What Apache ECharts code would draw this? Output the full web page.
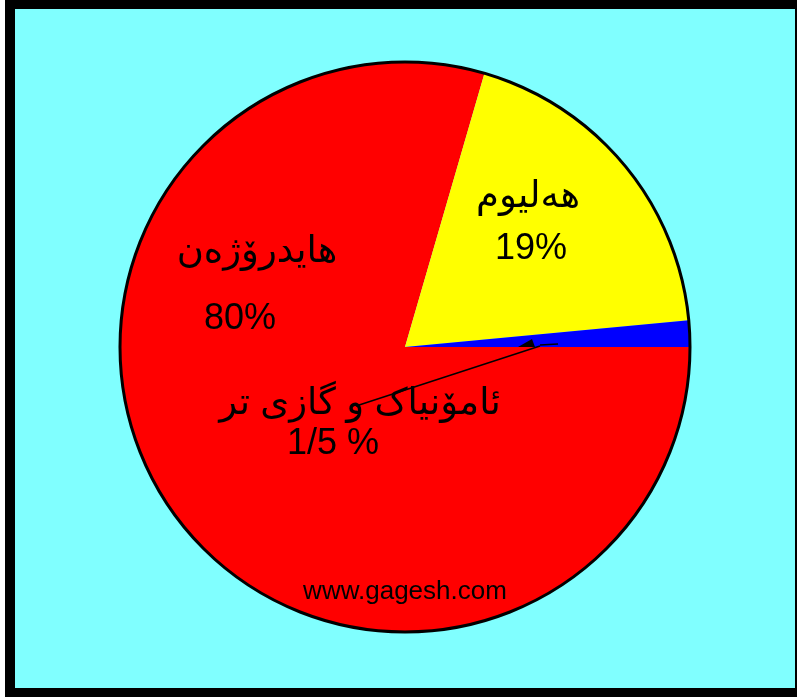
<!DOCTYPE html>
<html>
<head>
<meta charset="utf-8">
<script src="https://cdn.jsdelivr.net/npm/echarts@6/dist/echarts.min.js"></script>
<style>
    html, body { margin: 0; padding: 0; background: #fff; }
    #chart { width: 797px; height: 697px; }
</style>
</head>
<body>
<div id="chart"></div>
<script>
// gases (clockwise from 3 o'clock)
const categories = ['هایدرۆژەن', 'هەلیوم', 'ئامۆنیاک و گازی تر'];
const values = [79.5, 19, 1.5];
const colors = ['#ff0000', '#ffff00', '#0000ff'];
const percentLabels = ['80%', '19%', '1/5 %'];

(function () {
    let myChart = echarts.init(document.getElementById('chart'));
    const font = '"Liberation Sans", Arial, "DejaVu Sans", sans-serif';

    function txt(x, y, s, size) {
        return {
            type: 'text', z: 100, x: x, y: y,
            style: {
                text: s, fill: '#000', font: size + 'px ' + font,
                align: 'center', verticalAlign: 'middle'
            }
        };
    }

    let option = {
        animation: false,
        backgroundColor: '#fff',
        graphic: [
            // frame
            { type: 'rect', z: -10, shape: { x: 5, y: 0, width: 792, height: 697 }, style: { fill: '#000' } },
            { type: 'rect', z: -9, shape: { x: 15, y: 9, width: 780, height: 679 }, style: { fill: '#80ffff' } },
            // labels
            txt(257, 252, categories[0], 37),
            txt(240, 319, percentLabels[0], 36),
            txt(528, 197, categories[1], 37),
            txt(531, 249, percentLabels[1], 36),
            txt(360, 404, categories[2], 37),
            txt(333, 444, percentLabels[2], 36),
            txt(405, 592, 'www.gagesh.com', 26),
            // leader line to the small slice
            { type: 'line', z: 100, shape: { x1: 356, y1: 406, x2: 540, y2: 346 }, style: { stroke: '#000', lineWidth: 1.5 } },
            { type: 'polygon', z: 100, shape: { points: [[532, 339], [518, 347], [535, 347]] }, style: { fill: '#000' } },
            { type: 'line', z: 100, shape: { x1: 540, y1: 345, x2: 558, y2: 344 }, style: { stroke: '#000', lineWidth: 1.5 } }
        ],
        series: [
            {
                type: 'pie',
                center: [405, 347],
                radius: 285,
                startAngle: 0,
                clockwise: true,
                silent: true,
                label: { show: false },
                labelLine: { show: false },
                itemStyle: { borderWidth: 0 },
                data: categories.map((c, i) => ({
                    name: c, value: values[i], itemStyle: { color: colors[i] }
                }))
            },
            {
                // outer rim
                type: 'pie',
                center: [405, 347],
                radius: 285,
                silent: true,
                z: 5,
                label: { show: false },
                labelLine: { show: false },
                itemStyle: { color: 'transparent', borderColor: '#000', borderWidth: 3 },
                data: [100]
            }
        ]
    };
    myChart.setOption(option);
})();
</script>
</body>
</html>
